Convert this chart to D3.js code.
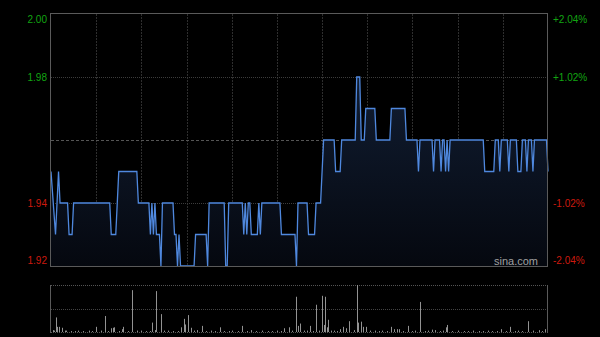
<!DOCTYPE html>
<html><head><meta charset="utf-8">
<script src="https://cdn.jsdelivr.net/npm/d3@7"></script>
<style>html,body{margin:0;padding:0;background:#000;}svg{display:block;}</style>
</head><body>
<script>
// ---- data ----
const priceMinutes = [0,3,5,6,11,12,14,15,39,40,43,44,45,57,58,65,66,67,68,69,70,72,73,74,81,82,83,84,85,86,95,96,103,104,105,115,116,117,118,127,128,129,130,131,132,133,137,138,139,140,152,153,162,163,164,170,171,175,176,179,181,188,189,192,193,202,203,205,206,208,209,215,216,225,226,235,236,243,244,245,253,254,255,258,259,260,261,262,263,264,265,287,288,294,295,297,298,299,303,304,305,309,310,312,313,315,316,317,319,320,321,329,330];
const priceValues  = [1.95,1.93,1.95,1.94,1.94,1.93,1.93,1.94,1.94,1.93,1.93,1.94,1.95,1.95,1.94,1.94,1.93,1.94,1.93,1.94,1.93,1.93,1.92,1.94,1.94,1.93,1.93,1.92,1.93,1.92,1.92,1.93,1.93,1.92,1.94,1.94,1.92,1.92,1.94,1.94,1.93,1.94,1.93,1.94,1.94,1.93,1.93,1.94,1.93,1.94,1.94,1.93,1.93,1.92,1.94,1.94,1.93,1.93,1.94,1.94,1.96,1.96,1.95,1.95,1.96,1.96,1.98,1.98,1.96,1.96,1.97,1.97,1.96,1.96,1.97,1.97,1.96,1.96,1.95,1.96,1.96,1.95,1.96,1.96,1.95,1.96,1.96,1.95,1.96,1.95,1.96,1.96,1.95,1.95,1.96,1.96,1.95,1.96,1.96,1.95,1.96,1.96,1.95,1.95,1.96,1.96,1.95,1.96,1.96,1.95,1.96,1.96,1.95];
const volMinutes = [1,2,3,4,5,7,9,10,13,16,18,21,25,27,30,33,36,38,40,41,42,45,47,48,51,54,57,60,63,66,67,69,70,73,75,78,81,84,86,88,89,91,93,95,97,100,103,106,109,112,115,118,120,124,127,130,133,136,140,144,147,150,153,155,158,160,163,164,165,168,170,172,174,176,178,180,181,182,183,184,186,188,190,192,194,196,198,201,203,204,206,207,209,212,215,218,220,223,226,228,230,231,234,237,240,242,245,248,250,253,255,258,260,262,263,266,270,274,277,280,284,287,290,293,296,299,302,305,308,310,313,317,320,324,326,328];
const volValues  = [4,3,31,11,11,9,3,3,2,2,3,2,3,2,11,3,34,2,8,9,10,2,6,11,2,89,3,3,2,2,20,4,87,38,3,3,2,2,10,28,16,36,9,3,4,13,2,3,2,10,2,2,3,2,13,2,4,2,3,2,2,3,2,8,10,3,75,13,18,3,3,13,2,58,3,77,15,75,10,26,3,3,2,6,11,8,23,4,100,20,22,11,11,3,3,2,3,2,11,6,6,6,2,13,2,3,64,2,3,5,4,2,3,10,15,2,3,2,2,3,2,2,3,2,2,6,2,11,2,3,2,23,3,4,2,6];
const prevClose = 1.96;
const leftTicks  = [2.00, 1.98, 1.94, 1.92];
const leftLabels = ["2.00", "1.98", "1.94", "1.92"];
const rightLabels = ["+2.04%", "+1.02%", "-1.02%", "-2.04%"];
const gridPrices = [1.98, 1.94];
const vGridMinutes = [30,60,90,120,150,180,210,240,270,300];

// ---- drawing ----
const W = 600, H = 337;
const svg = d3.select("body").append("svg").attr("width", W).attr("height", H)
  .style("background", "#000");

const x = d3.scaleLinear().domain([0, 330]).range([51, 548]);
const y = d3.scaleLinear().domain([1.92, 2.00]).range([266, 14]);
const yv = d3.scaleLinear().domain([0, 100]).range([332, 285]);

const defs = svg.append("defs");
const grad = defs.append("linearGradient").attr("id", "ag")
  .attr("x1", 0).attr("y1", 0).attr("x2", 0).attr("y2", 1);
grad.append("stop").attr("offset", "0%").attr("stop-color", "#111d32");
grad.append("stop").attr("offset", "100%").attr("stop-color", "#05080f");

// vertical grid (main)
svg.append("g").selectAll("line").data(vGridMinutes).join("line")
  .attr("x1", d => Math.round(x(d)) + 0.5).attr("x2", d => Math.round(x(d)) + 0.5)
  .attr("y1", y(2.00)).attr("y2", y(1.92))
  .attr("stroke", "#2e2e2e").attr("stroke-dasharray", "2,1");

// horizontal grid (main)
svg.append("g").selectAll("line").data(gridPrices).join("line")
  .attr("x1", x(0)).attr("x2", x(330))
  .attr("y1", d => Math.round(y(d)) + 0.5).attr("y2", d => Math.round(y(d)) + 0.5)
  .attr("stroke", "#3c3c3c").attr("stroke-dasharray", "1,1");
svg.append("line")
  .attr("x1", x(0)).attr("x2", x(330))
  .attr("y1", Math.round(y(prevClose)) + 0.5).attr("y2", Math.round(y(prevClose)) + 0.5)
  .attr("stroke", "#555").attr("stroke-dasharray", "3,2");

// area + line
const pts = priceMinutes.map((m, i) => [m, priceValues[i]]);
svg.append("path").datum(pts)
  .attr("d", d3.area().x(d => x(d[0])).y0(y(1.92)).y1(d => y(d[1])))
  .attr("fill", "url(#ag)");
svg.append("path").datum(pts)
  .attr("d", d3.line().x(d => x(d[0])).y(d => y(d[1])))
  .attr("fill", "none").attr("stroke", "#4f88de").attr("stroke-width", 1.3)
  .attr("stroke-linejoin", "miter");

// main frame
svg.append("rect").attr("x", 50.5).attr("y", 13.5).attr("width", 497).attr("height", 253)
  .attr("fill", "none").attr("stroke", "#5a5a5a");

// left labels
svg.append("g").selectAll("text").data(leftTicks).join("text")
  .attr("x", 47).attr("y", (d, i) => i === 0 ? y(d) + 5 : (i === 3 ? y(d) - 6 : y(d)))
  .attr("dy", "0.35em").attr("text-anchor", "end")
  .attr("font-family", "Liberation Sans, Arial, sans-serif").attr("font-size", 10)
  .attr("fill", d => d > prevClose ? "#12a512" : "#cc1a0e")
  .text((d, i) => leftLabels[i]);
// right labels
svg.append("g").selectAll("text").data(leftTicks).join("text")
  .attr("x", 553).attr("y", (d, i) => i === 0 ? y(d) + 5 : (i === 3 ? y(d) - 6 : y(d)))
  .attr("dy", "0.35em").attr("text-anchor", "start")
  .attr("font-family", "Liberation Sans, Arial, sans-serif").attr("font-size", 10)
  .attr("fill", d => d > prevClose ? "#12a512" : "#cc1a0e")
  .text((d, i) => rightLabels[i]);

// watermark
svg.append("text").attr("x", 538).attr("y", 265).attr("text-anchor", "end")
  .attr("font-family", "Liberation Sans, Arial, sans-serif").attr("font-size", 11)
  .attr("fill", "#a0a0a0").text("sina.com");

// volume panel
const vg = svg.append("g");
vg.append("line").attr("x1", 51).attr("x2", 548).attr("y1", 285.5).attr("y2", 285.5)
  .attr("stroke", "#555").attr("stroke-dasharray", "1,1");
vg.append("line").attr("x1", 51).attr("x2", 548).attr("y1", 309.5).attr("y2", 309.5)
  .attr("stroke", "#444").attr("stroke-dasharray", "1,1");
vg.append("line").attr("x1", 51).attr("x2", 548).attr("y1", 332.5).attr("y2", 332.5)
  .attr("stroke", "#555").attr("stroke-dasharray", "1,1");
vg.append("line").attr("x1", 50.5).attr("x2", 50.5).attr("y1", 285).attr("y2", 333)
  .attr("stroke", "#5a5a5a");
vg.append("line").attr("x1", 547.5).attr("x2", 547.5).attr("y1", 285).attr("y2", 333)
  .attr("stroke", "#5a5a5a");
vg.selectAll("line.bar").data(volMinutes.map((m, i) => [m, volValues[i]])).join("line")
  .attr("class", "bar")
  .attr("x1", d => Math.round(x(d[0])) + 0.5).attr("x2", d => Math.round(x(d[0])) + 0.5)
  .attr("y1", yv(0)).attr("y2", d => yv(d[1]))
  .attr("stroke", "#929292").attr("stroke-width", 1);
</script>
</body></html>
